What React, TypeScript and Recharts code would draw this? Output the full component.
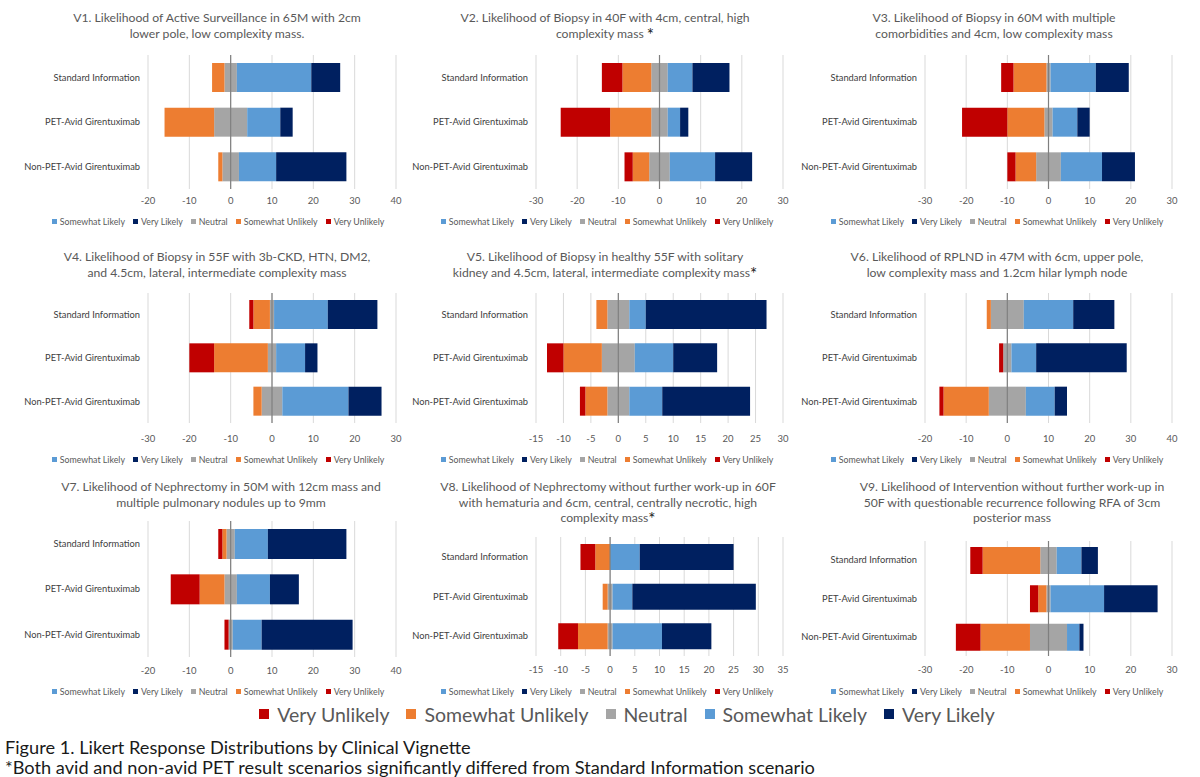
import React from 'react';
import { BarChart, Bar, XAxis, YAxis, CartesianGrid, ReferenceLine } from 'recharts';

// ---------- data ----------
const scenarios = ['Standard Information', 'PET-Avid Girentuximab', 'Non-PET-Avid Girentuximab'];
const responseLabels = ['Very Unlikely', 'Somewhat Unlikely', 'Neutral', 'Somewhat Likely', 'Very Likely'];
const responseColors = ['#C00000', '#ED7D31', '#A5A5A5', '#5B9BD5', '#002060'];
const panelLegendOrder = [3, 4, 2, 1, 0];

// counts per scenario: [Very Unlikely, Somewhat Unlikely, Neutral, Somewhat Likely, Very Likely]
const v1Counts = [[0, 3, 3, 18, 7], [0, 12, 8, 8, 3], [0, 1, 4, 9, 17]];
const v2Counts = [[5, 7, 4, 6, 9], [12, 10, 4, 3, 2], [2, 4, 5, 11, 9]];
const v3Counts = [[3, 8, 1, 11, 8], [11, 9, 2, 6, 3], [2, 5, 6, 10, 8]];
const v4Counts = [[1, 4, 1, 13, 12], [6, 13, 2, 7, 3], [0, 2, 5, 16, 8]];
const v5Counts = [[0, 2, 4, 3, 22], [3, 7, 6, 7, 8], [1, 4, 4, 6, 16]];
const v6Counts = [[0, 1, 8, 12, 10], [1, 0, 2, 6, 22], [1, 11, 9, 7, 3]];
const v7Counts = [[1, 1, 2, 8, 19], [7, 6, 3, 8, 7], [1, 0, 1, 7, 22]];
const v8Counts = [[3, 3, 0, 6, 19], [0, 1, 1, 4, 25], [4, 6, 1, 10, 10]];
const v9Counts = [[3, 14, 4, 6, 4], [2, 2, 1, 13, 13], [6, 12, 9, 3, 1]];

const ticksA = [-20, -10, 0, 10, 20, 30, 40];
const ticksB = [-30, -20, -10, 0, 10, 20, 30];
const ticksC = [-15, -10, -5, 0, 5, 10, 15, 20, 25, 30];
const ticksD = [-15, -10, -5, 0, 5, 10, 15, 20, 25, 30, 35];

const v1Title = ['V1. Likelihood of Active Surveillance in 65M with 2cm', 'lower pole, low complexity mass.'];
const v2Title = ['V2. Likelihood of Biopsy in 40F with 4cm, central, high', 'complexity mass *'];
const v3Title = ['V3. Likelihood of Biopsy in 60M with multiple', 'comorbidities and 4cm, low complexity mass'];
const v4Title = ['V4. Likelihood of Biopsy in 55F with 3b-CKD, HTN, DM2,', 'and 4.5cm, lateral, intermediate complexity mass'];
const v5Title = ['V5. Likelihood of Biopsy in healthy 55F with solitary', 'kidney and 4.5cm, lateral, intermediate complexity mass*'];
const v6Title = ['V6. Likelihood of RPLND in 47M with 6cm, upper pole,', 'low complexity mass and 1.2cm hilar lymph node'];
const v7Title = ['V7. Likelihood of Nephrectomy in 50M with 12cm mass and', 'multiple pulmonary nodules up to 9mm'];
const v8Title = ['V8. Likelihood of Nephrectomy without further work-up in 60F', 'with hematuria and 6cm, central, centrally necrotic, high', 'complexity mass*'];
const v9Title = ['V9. Likelihood of Intervention without further work-up in', '50F with questionable recurrence following RFA of 3cm', 'posterior mass'];

const captionLines = [
  'Figure 1. Likert Response Distributions by Clinical Vignette',
  '*Both avid and non-avid PET result scenarios significantly differed from Standard Information scenario',
];

// ---------- helpers ----------
const FONT = 'Lato, "Open Sans", sans-serif';

function buildRows(counts: number[][]) {
  return scenarios.map((s, i) => {
    const c = counts[i];
    return {
      scenario: s,
      nNeg: -c[2] / 2,
      nPos: c[2] / 2,
      swu: -c[1],
      swl: c[3],
      vu: -c[0],
      vl: c[4],
    };
  });
}

type PanelProps = {
  title: string[];
  counts: number[][];
  ticks: number[];
  plotLeft: number;
  plotRight: number;
  plotTop: number;
  plotBottom: number;
  titleTop: number;
  centerX: number;
  legendCenter: number;
  legendY: number;
  barSize: number;
  tickGap: number;
};

function CategoryTick(props: any) {
  const { x, y, payload } = props;
  return (
    <text x={x} y={y} dy={3.2} textAnchor="end" fontSize={9.3} fill="#404040" fontFamily={FONT}>
      {payload.value}
    </text>
  );
}

function TitleLine({ text }: { text: string }) {
  if (text.endsWith('*')) {
    return (
      <div>
        {text.slice(0, -1)}
        <span style={{ fontSize: 17, color: '#1a1a1a', position: 'relative', top: 3, lineHeight: 0 }}>*</span>
      </div>
    );
  }
  return <div>{text}</div>;
}

function Panel(p: PanelProps) {
  const yAxisW = 150;
  const m = { top: 4, right: 16, bottom: 0, left: 0 };
  const xAxisH = 26;
  const chartLeft = p.plotLeft - yAxisW;
  const width = yAxisW + (p.plotRight - p.plotLeft) + m.right;
  const height = m.top + (p.plotBottom - p.plotTop) + xAxisH;
  const rows = buildRows(p.counts);
  const keys = [
    { k: 'nNeg', c: 2 },
    { k: 'nPos', c: 2 },
    { k: 'swu', c: 1 },
    { k: 'swl', c: 3 },
    { k: 'vu', c: 0 },
    { k: 'vl', c: 4 },
  ];
  return (
    <>
      <div
        style={{
          position: 'absolute',
          left: p.centerX - 220,
          width: 440,
          top: p.titleTop,
          textAlign: 'center',
          fontFamily: FONT,
          fontSize: 12.2,
          lineHeight: '15.5px',
          color: '#595959',
          whiteSpace: 'nowrap',
        }}
      >
        {p.title.map((t, i) => (
          <TitleLine key={i} text={t} />
        ))}
      </div>
      <div style={{ position: 'absolute', left: chartLeft, top: p.plotTop - m.top }}>
        <BarChart
          width={width}
          height={height}
          data={rows}
          layout="vertical"
          stackOffset="sign"
          margin={m}
          barSize={p.barSize}
        >
          <CartesianGrid horizontal={false} stroke="#d9d9d9" />
          <XAxis
            type="number"
            domain={[p.ticks[0], p.ticks[p.ticks.length - 1]]}
            ticks={p.ticks}
            interval={0}
            allowDataOverflow
            axisLine={false}
            tickLine={false}
            tickMargin={p.tickGap}
            height={xAxisH}
            tick={{ fontSize: 9.5, fill: '#595959', fontFamily: FONT }}
          />
          <YAxis
            type="category"
            dataKey="scenario"
            width={yAxisW}
            axisLine={false}
            tickLine={false}
            tick={<CategoryTick />}
          />
          {keys.map((b) => (
            <Bar
              key={b.k}
              dataKey={b.k}
              stackId="s"
              fill={responseColors[b.c]}
              isAnimationActive={false}
              name={responseLabels[b.c]}
            />
          ))}
          <ReferenceLine x={0} stroke="#7f7f7f" strokeWidth={1.2} />
        </BarChart>
      </div>
      <div
        style={{
          position: 'absolute',
          left: p.legendCenter - 200,
          width: 400,
          top: p.legendY - 7,
          height: 14,
          display: 'flex',
          justifyContent: 'center',
          alignItems: 'center',
          gap: 8,
          fontFamily: FONT,
          fontSize: 8.8,
          color: '#595959',
          whiteSpace: 'nowrap',
        }}
      >
        {panelLegendOrder.map((idx) => (
          <div key={idx} style={{ display: 'flex', alignItems: 'center', gap: 3 }}>
            <span style={{ width: 5, height: 5, background: responseColors[idx], display: 'inline-block' }} />
            <span>{responseLabels[idx]}</span>
          </div>
        ))}
      </div>
    </>
  );
}

const col = [
  { plotLeft: 148, plotRight: 396, legendCenter: 218 },
  { plotLeft: 536, plotRight: 783, legendCenter: 607 },
  { plotLeft: 925, plotRight: 1172, legendCenter: 997 },
];
const row1 = { plotTop: 55, plotBottom: 189, titleTop: 10, legendY: 221, barSize: 29, tickGap: 2 };
const row2 = { plotTop: 293, plotBottom: 423, titleTop: 249, legendY: 459, barSize: 29, tickGap: 6 };
const row3 = { titleTop: 479, legendY: 691, tickGap: 4 };

export default function App() {
  return (
    <div style={{ position: 'absolute', left: 0, top: 0, width: 1200, height: 777, background: '#fff', overflow: 'hidden' }}>
      <Panel title={v1Title} counts={v1Counts} ticks={ticksA} {...col[0]} {...row1} centerX={217} />
      <Panel title={v2Title} counts={v2Counts} ticks={ticksB} {...col[1]} {...row1} centerX={605} />
      <Panel title={v3Title} counts={v3Counts} ticks={ticksB} {...col[2]} {...row1} centerX={994} />
      <Panel title={v4Title} counts={v4Counts} ticks={ticksB} {...col[0]} {...row2} centerX={217} />
      <Panel title={v5Title} counts={v5Counts} ticks={ticksC} {...col[1]} {...row2} centerX={605} />
      <Panel title={v6Title} counts={v6Counts} ticks={ticksA} {...col[2]} {...row2} centerX={997} />
      <Panel title={v7Title} counts={v7Counts} ticks={ticksA} {...col[0]} {...row3} plotTop={521} plotBottom={657} barSize={30} centerX={221} />
      <Panel title={v8Title} counts={v8Counts} ticks={ticksD} {...col[1]} {...row3} plotTop={537} plotBottom={656} barSize={26} centerX={608} />
      <Panel title={v9Title} counts={v9Counts} ticks={ticksB} {...col[2]} {...row3} plotTop={541} plotBottom={656} barSize={27} centerX={1012} />

      <div
        style={{
          position: 'absolute',
          left: 227,
          width: 800,
          top: 701,
          height: 26,
          display: 'flex',
          justifyContent: 'center',
          alignItems: 'center',
          gap: 17,
          fontFamily: FONT,
          fontSize: 19.5,
          color: '#595959',
          whiteSpace: 'nowrap',
        }}
      >
        {responseLabels.map((l, i) => (
          <div key={l} style={{ display: 'flex', alignItems: 'center', gap: 8 }}>
            <span style={{ width: 10, height: 10, background: responseColors[i], display: 'inline-block' }} />
            <span>{l}</span>
          </div>
        ))}
      </div>
      <div
        style={{
          position: 'absolute',
          left: 5,
          top: 737,
          fontFamily: FONT,
          fontSize: 18.2,
          lineHeight: '20px',
          color: '#1a1a1a',
          whiteSpace: 'nowrap',
        }}
      >
        {captionLines.map((c) => (
          <div key={c}>{c}</div>
        ))}
      </div>
    </div>
  );
}
